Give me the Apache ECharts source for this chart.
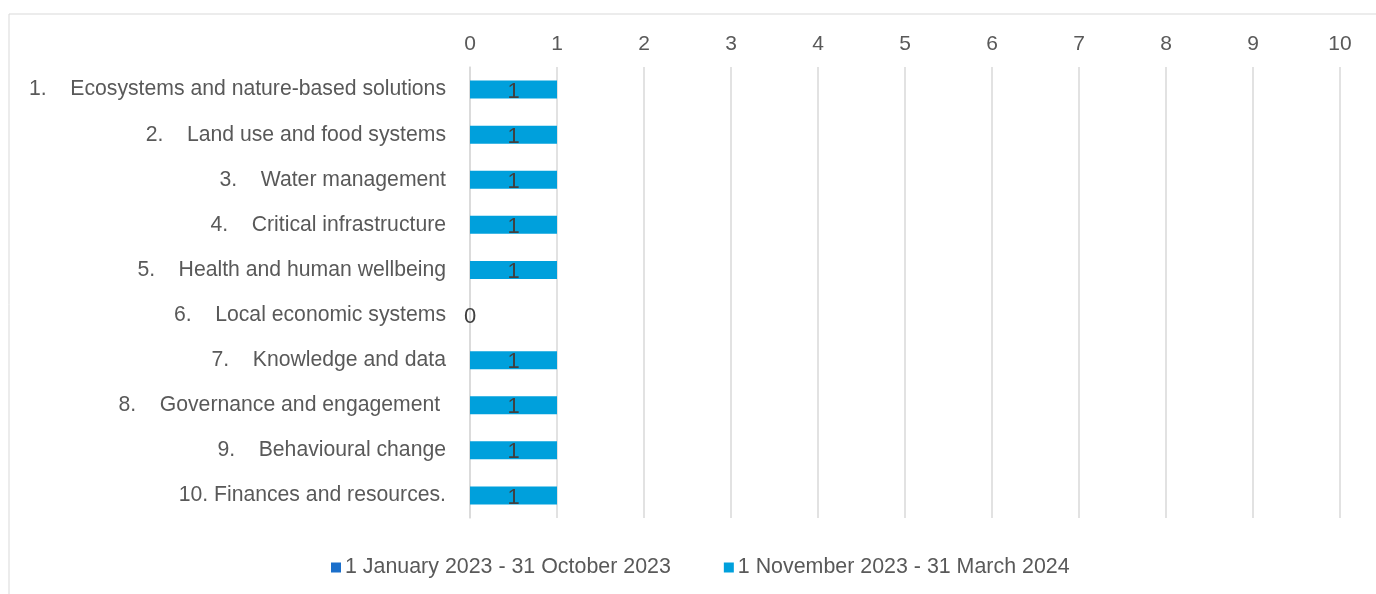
<!DOCTYPE html>
<html>
<head>
<meta charset="utf-8">
<script src="https://cdn.jsdelivr.net/npm/echarts@6/dist/echarts.min.js"></script>
<style>
  html, body { margin: 0; padding: 0; background: #fff; }
  #chart { width: 1376px; height: 594px; }
</style>
</head>
<body>
<div id="chart"></div>
<script>
// categories (top to bottom)
var themes = [
    '1.    Ecosystems and nature-based solutions',
    '2.    Land use and food systems',
    '3.    Water management',
    '4.    Critical infrastructure',
    '5.    Health and human wellbeing',
    '6.    Local economic systems',
    '7.    Knowledge and data',
    '8.    Governance and engagement ',
    '9.    Behavioural change',
    '10. Finances and resources.'
];
var seriesNames = ['1 January 2023 - 31 October 2023', '1 November 2023 - 31 March 2024'];
var period1 = [0, 0, 0, 0, 0, 0, 0, 0, 0, 0];
var period2 = [1, 1, 1, 1, 1, 0, 1, 1, 1, 1];
var xTicks = { min: 0, max: 10, interval: 1 };

var chartDom = document.getElementById('chart');
var myChart = echarts.init(chartDom);
var font = '"Liberation Sans", Arial, sans-serif';
var option;

option = {
    animation: false,
    textStyle: { fontFamily: font },
    graphic: [
        {
            type: 'rect',
            shape: { x: 9, y: 14, width: 1400, height: 620 },
            style: { fill: 'none', stroke: '#d9d9d9', lineWidth: 1 },
            silent: true
        }
    ],
    grid: {
        left: 470,
        right: 36,
        top: 67,
        bottom: 76
    },
    legend: {
        data: seriesNames,
        top: 552,
        left: 326,
        itemWidth: 10,
        itemHeight: 10,
        itemGap: 53,
        icon: 'rect',
        textStyle: { fontFamily: font, fontSize: 21.4, color: '#595959', padding: [0, 0, 0, -1] }
    },
    xAxis: {
        type: 'value',
        position: 'top',
        min: xTicks.min,
        max: xTicks.max,
        interval: xTicks.interval,
        axisLine: { show: false },
        axisTick: { show: false },
        axisLabel: { fontFamily: font, fontSize: 21, color: '#595959', margin: 12 },
        splitLine: { lineStyle: { color: '#d9d9d9', width: 1.5 } }
    },
    yAxis: {
        type: 'category',
        inverse: true,
        data: themes,
        axisLine: { lineStyle: { color: '#d9d9d9', width: 1.5 } },
        axisTick: { length: 5, lineStyle: { color: '#cccccc', width: 1.5 } },
        axisLabel: {
            fontFamily: font,
            fontSize: 21.2,
            color: '#595959',
            margin: 24,
            padding: [3, 0, 0, 0]
        }
    },
    series: [
        {
            name: seriesNames[0],
            type: 'bar',
            stack: 'total',
            barWidth: 18,
            itemStyle: { color: '#1b6fcb' },
            label: { show: false },
            data: period1
        },
        {
            name: seriesNames[1],
            type: 'bar',
            stack: 'total',
            barWidth: 18,
            itemStyle: { color: '#00a0dc' },
            label: {
                show: true,
                position: 'inside',
                fontFamily: font,
                fontSize: 22,
                color: '#404040',
                offset: [0, 2]
            },
            data: period2
        }
    ]
};

option && myChart.setOption(option);
</script>
</body>
</html>
